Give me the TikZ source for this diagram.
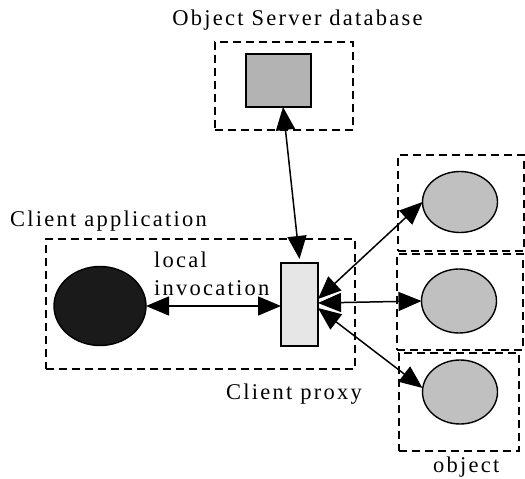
\documentclass[tikz,border=0pt]{standalone}
\usepackage{fontspec}
\setmainfont{Liberation Serif}[LetterSpace=10]
\usetikzlibrary{arrows.meta,shapes.geometric}

\definecolor{dbgray}{HTML}{B3B3B3}
\definecolor{objgray}{HTML}{C0C0C0}
\definecolor{proxygray}{HTML}{E6E6E6}
\definecolor{clientdark}{HTML}{1A1A1A}

\tikzset{
  group/.style={draw, dashed, line width=2.2pt, dash pattern=on 8pt off 5pt,
    rectangle, inner sep=0pt, outer sep=0pt},
  solidbox/.style={draw, line width=1.4pt, rectangle, inner sep=0pt, outer sep=0pt},
  blob/.style={draw, line width=1.4pt, ellipse, inner sep=0pt, outer sep=0pt},
  label/.style={font=\fontsize{22.5}{28}\selectfont, inner sep=0pt, anchor=base west},
  dbl/.style={line width=1.5pt,
    {Triangle[length=23pt,width=19pt]}-{Triangle[length=23pt,width=19pt]}}
}

\begin{document}
\begin{tikzpicture}[x=1pt, y=-1pt]
  \useasboundingbox (0,0) rectangle (525,479);

  % server side
  \node[group, minimum width=138pt, minimum height=88pt] (dbbox) at (284,86) {};
  \node[solidbox, fill=dbgray, minimum width=65pt, minimum height=53pt] (dbrect) at (278.5,80.5) {};
  \node[label, anchor=base] (dbtext) at (297.5,25) {Object Server database};

  % client application
  \node[group, minimum width=309pt, minimum height=130pt] (appbox) at (200.5,304) {};
  \node[blob, fill=clientdark, minimum width=92pt, minimum height=79pt] (client) at (100,306) {};
  \node[solidbox, fill=proxygray, minimum width=37pt, minimum height=83pt] (proxy) at (299.5,304.5) {};
  \node[label] (apptext) at (10,226) {Client application};
  \node[label] (localtext) at (154,267) {local};
  \node[label] (invtext) at (154,295) {invocation};
  \node[label] (proxytext) at (226,399) {Client proxy};

  % remote objects
  \node[group, minimum width=126pt, minimum height=96pt] (obox1) at (461,203) {};
  \node[group, minimum width=126pt, minimum height=96pt] (obox2) at (460,302) {};
  \node[group, minimum width=120pt, minimum height=98pt] (obox3) at (459,402) {};
  \node[blob, fill=objgray, minimum width=75pt, minimum height=61pt] (obj1) at (460,202) {};
  \node[blob, fill=objgray, minimum width=75pt, minimum height=64pt] (obj2) at (459,301) {};
  \node[blob, fill=objgray, minimum width=75pt, minimum height=64pt] (obj3) at (460,392) {};
  \node[label] (objtext) at (433,472) {object};

  % invocations
  \draw[dbl] (client.east) -- (client.east -| proxy.west);
  \draw[dbl] ([xshift=4.5pt]dbrect.south) -- ([yshift=4pt]proxy.north);
  \draw[dbl] ([yshift=5.5pt]proxy.east) -- (obj1.west);
  \draw[dbl] ([yshift=1.5pt]proxy.east) -- (obj2.west);
  \draw[dbl] ([yshift=-3.5pt]proxy.east) -- ([yshift=4pt]obj3.west);
\end{tikzpicture}
\end{document}
